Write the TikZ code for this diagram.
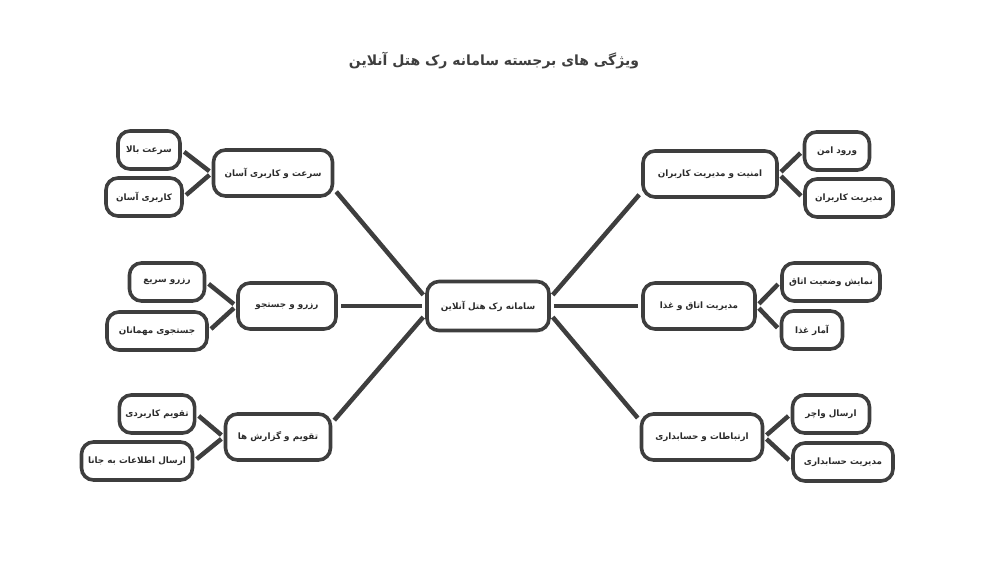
\documentclass[tikz,border=0pt]{standalone}
\usepackage{fontspec}
\newfontfamily\arabicfont[Script=Arabic]{DejaVu Sans}
\TeXXeTstate=1
\newcommand{\fa}[1]{\arabicfont\beginR #1\endR}
\definecolor{darkline}{RGB}{62,62,62}

\begin{document}
\begin{tikzpicture}[x=1pt,y=-1pt]

\tikzset{topic/.style = {shape=rectangle, rounded corners=12pt, draw=darkline, line width=3.6pt, inner xsep=6pt, minimum height=38pt, font=\bfseries\fontsize{8.8}{10}\selectfont, text=darkline!70!black}}
\tikzset{hub/.style = {topic, minimum height=46pt}}
\tikzset{edge/.style = {draw=darkline, line width=4.5pt, shorten <=3pt, shorten >=3pt}}
\useasboundingbox (0,0) rectangle (988,564);
% title
\node[font=\bfseries\fontsize{14}{17}\selectfont, text=darkline] (title) at (494,61) {\fa{ویژگی های برجسته سامانه رک هتل آنلاین}};
% vertices
\node[hub, minimum height=49pt, minimum width=122pt] (main) at (488,306) {\fa{سامانه رک هتل آنلاین}};
\node[hub, minimum width=119pt] (speed) at (273,173) {\fa{سرعت و کاربری آسان}};
\node[hub, minimum width=98pt] (booking) at (287,306) {\fa{رزرو و جستجو}};
\node[hub, minimum width=105pt] (calendar) at (278,437) {\fa{تقویم و گزارش ها}};
\node[hub, minimum width=134pt] (security) at (710,174) {\fa{امنیت و مدیریت کاربران}};
\node[hub, minimum width=112pt] (rooms) at (699,306) {\fa{مدیریت اتاق و غذا}};
\node[hub, minimum width=121pt] (accounts) at (702,437) {\fa{ارتباطات و حسابداری}};
\node[topic, minimum width=62pt] (fast) at (149,150) {\fa{سرعت بالا}};
\node[topic, minimum width=76pt] (easy) at (144,197) {\fa{کاربری آسان}};
\node[topic, minimum width=75pt] (quick) at (167,282) {\fa{رزرو سریع}};
\node[topic, minimum width=100pt] (guests) at (157,331) {\fa{جستجوی مهمانان}};
\node[topic, minimum width=75pt] (planner) at (157,414) {\fa{تقویم کاربردی}};
\node[topic, minimum width=111pt] (jana) at (137,461) {\fa{ارسال اطلاعات به جانا}};
\node[topic, minimum width=65pt] (login) at (837,151) {\fa{ورود امن}};
\node[topic, minimum width=88pt] (users) at (849,198) {\fa{مدیریت کاربران}};
\node[topic, minimum width=98pt] (status) at (831,282) {\fa{نمایش وضعیت اتاق}};
\node[topic, minimum width=61pt] (food) at (812,330) {\fa{آمار غذا}};
\node[topic, minimum width=77pt] (voucher) at (831,414) {\fa{ارسال واچر}};
\node[topic, minimum width=100pt] (ledger) at (843,462) {\fa{مدیریت حسابداری}};
%edges
\draw[edge] (main.172) -- (speed.-15);
\draw[edge] (main.west) -- (booking.east);
\draw[edge] (main.188) -- (calendar.15);
\draw[edge] (main.8) -- (security.195);
\draw[edge] (main.east) -- (rooms.west);
\draw[edge] (main.-8) -- (accounts.165);
\draw[edge] (speed.west) -- (fast.east);
\draw[edge] (speed.west) -- (easy.east);
\draw[edge] (booking.west) -- (quick.east);
\draw[edge] (booking.west) -- (guests.east);
\draw[edge] (calendar.west) -- (planner.east);
\draw[edge] (calendar.west) -- (jana.east);
\draw[edge] (security.east) -- (login.west);
\draw[edge] (security.east) -- (users.west);
\draw[edge] (rooms.east) -- (status.west);
\draw[edge] (rooms.east) -- (food.west);
\draw[edge] (accounts.east) -- (voucher.west);
\draw[edge] (accounts.east) -- (ledger.west);
\end{tikzpicture}
\end{document}
